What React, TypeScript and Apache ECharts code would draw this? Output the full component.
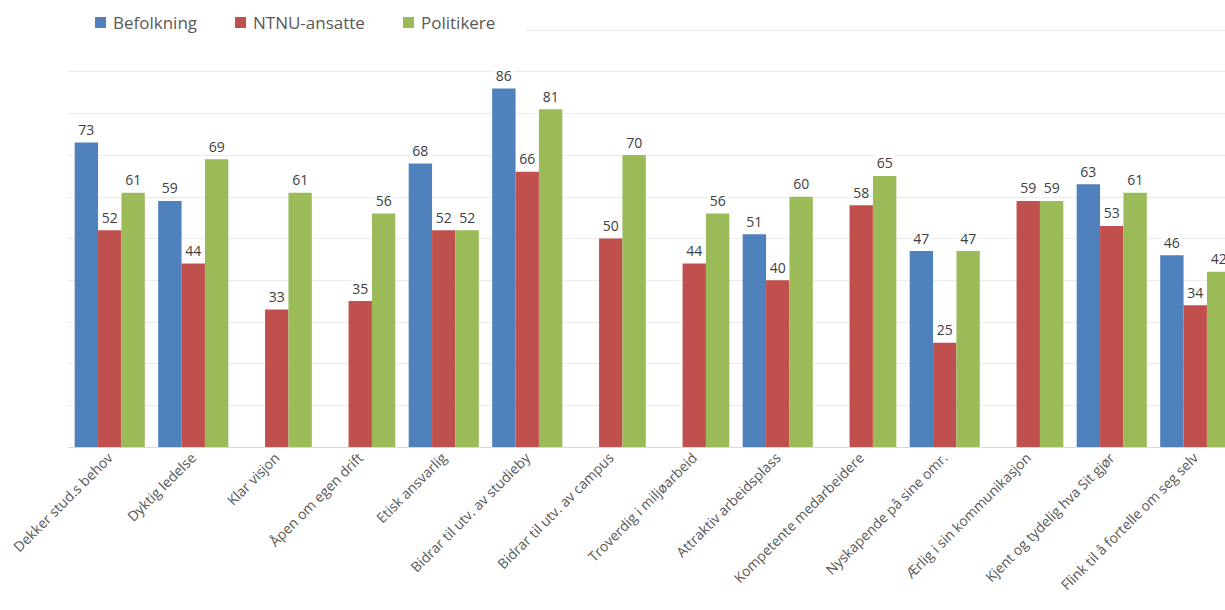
import React, { useEffect, useRef } from "react";
import * as echarts from "echarts";

const categories = [
  "Dekker stud.s behov",
  "Dyktig ledelse",
  "Klar visjon",
  "Åpen om egen drift",
  "Etisk ansvarlig",
  "Bidrar til utv. av studieby",
  "Bidrar til utv. av campus",
  "Troverdig i miljøarbeid",
  "Attraktiv arbeidsplass",
  "Kompetente medarbeidere",
  "Nyskapende på sine omr.",
  "Ærlig i sin kommunikasjon",
  "Kjent og tydelig hva Sit gjør",
  "Flink til å fortelle om seg selv",
];

const befolkning = [73, 59, null, null, 68, 86, null, null, 51, null, 47, null, 63, 46];
const ntnuAnsatte = [52, 44, 33, 35, 52, 66, 50, 44, 40, 58, 25, 59, 53, 34];
const politikere = [61, 69, 61, 56, 52, 81, 70, 56, 60, 65, 47, 59, 61, 42];

const seriesNames = ["Befolkning", "NTNU-ansatte", "Politikere"];
const seriesColors = ["#4F81BD", "#C0504D", "#9BBB59"];
const seriesData = [befolkning, ntnuAnsatte, politikere];

const FONT = "'Open Sans', 'Noto Sans', sans-serif";

export default function App() {
  const ref = useRef<HTMLDivElement>(null);
  useEffect(() => {
    if (!ref.current) return;
    const chart = echarts.init(ref.current, undefined, { renderer: "svg" });
    const legendLefts = [95, 235, 403];
    chart.setOption({
      animation: false,
      backgroundColor: "#ffffff",
      textStyle: { fontFamily: FONT },
      legend: seriesNames.map((n, i) => ({
        data: [n],
        left: legendLefts[i],
        top: 14,
        padding: 0,
        itemWidth: 11,
        itemHeight: 11,
        itemGap: 0,
        icon: "rect",
        textStyle: { fontSize: 17, color: "#595959", fontFamily: FONT, padding: [0, 0, 0, 2] },
      })),
      graphic: [
        {
          type: "rect",
          z: 1,
          shape: { x: 60, y: 24, width: 465, height: 12 },
          style: { fill: "#ffffff" },
          silent: true,
        },
      ],
      grid: { left: 68, right: 8, top: 30, bottom: 163 },
      xAxis: {
        type: "category",
        data: categories,
        axisLine: { show: true, lineStyle: { color: "#D9D9D9", width: 1 } },
        axisTick: { show: false },
        axisLabel: {
          interval: 0,
          rotate: 45,
          margin: 8,
          fontSize: 14,
          color: "#595959",
          fontFamily: FONT,
        },
      },
      yAxis: {
        type: "value",
        min: 0,
        max: 100,
        interval: 10,
        axisLabel: { show: false },
        axisLine: { show: false },
        axisTick: { show: false },
        splitLine: { lineStyle: { color: "#EBEBEB", width: 1 } },
      },
      series: seriesNames.map((n, i) => ({
        name: n,
        type: "bar",
        data: seriesData[i],
        barGap: "0%",
        barCategoryGap: "16%",
        itemStyle: { color: seriesColors[i] },
        label: {
          show: true,
          position: "top",
          distance: 6,
          fontSize: 14,
          color: "#404040",
          fontFamily: FONT,
          backgroundColor: "#ffffff",
          padding: [1, 2, 0, 2],
        },
      })),
    });
    return () => chart.dispose();
  }, []);
  return (
    <div
      style={{
        position: "fixed",
        left: 0,
        top: 0,
        width: 1225,
        height: 610,
        overflow: "hidden",
        background: "#fff",
      }}
    >
      <div ref={ref} style={{ width: 1245, height: 610 }} />
    </div>
  );
}
